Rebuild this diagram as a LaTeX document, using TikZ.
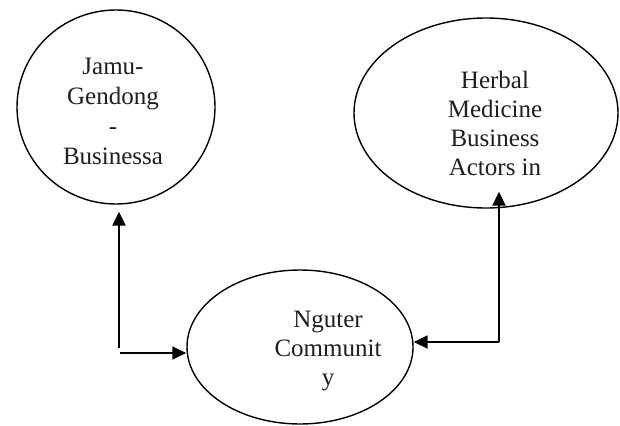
\documentclass[tikz,border=0pt]{standalone}
\usepackage{fontspec}
\setmainfont{Liberation Serif}
\usetikzlibrary{shapes.geometric,arrows.meta}
\begin{document}
\begin{tikzpicture}[x=1pt,y=-1pt,
  bubble/.style={draw, ellipse, line width=1.4pt, inner sep=0pt},
  label/.style={align=center, text=black!88, font=\fontsize{25}{29}\selectfont},
  link/.style={line width=1.6pt, -{Triangle[length=14pt,width=13pt]}}]
\path[use as bounding box, fill=white] (0,0) rectangle (620,425);
\node[bubble, minimum width=198pt, minimum height=194pt] (jamu) at (116,107) {};
\node[bubble, minimum width=264pt, minimum height=190pt] (herbal) at (486,113) {};
\node[bubble, minimum width=226pt, minimum height=154pt] (nguter) at (300,347) {};
\node[label, font=\fontsize{25}{30}\selectfont] (jamutext) at (113,111) {Jamu-\\Gendong\\-\\Businessa};
\node[label] (herbaltext) at (495,123) {Herbal\\Medicine\\Business\\Actors in};
\node[label] (ngutertext) at (328,351) {Nguter\\Communit\\y};
\coordinate (lv) at (119,348);
\coordinate (lh) at (120,353);
\coordinate (rc) at (499,342);
\draw[link, line width=2.2pt, shorten >=7pt] (lv) -- (lv |- jamu.south);
\draw[link, line width=1.5pt] (lh) -- (lh -| nguter.west);
\draw[link, line width=2pt, shorten >=-17pt] (rc) -- (rc |- herbal.south);
\draw[link, line width=1.8pt] (rc) -- (rc -| nguter.east);
\end{tikzpicture}
\end{document}
